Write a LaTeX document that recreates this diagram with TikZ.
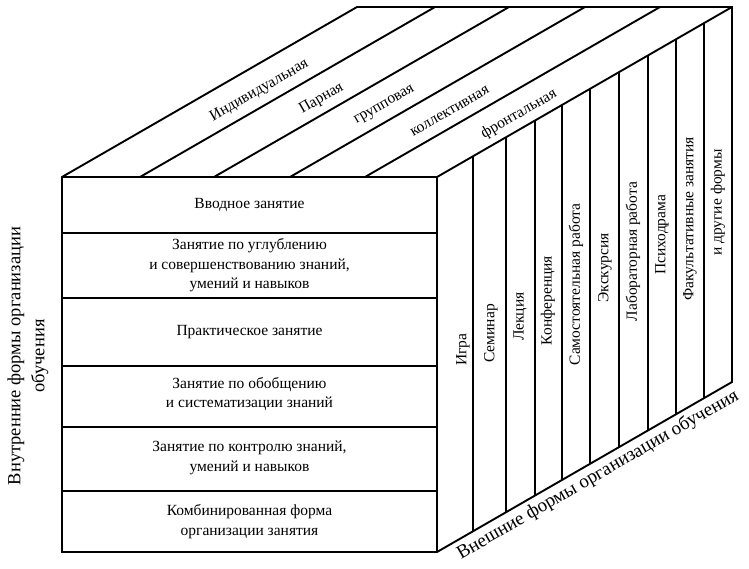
\documentclass[tikz,border=0pt]{standalone}
\usepackage{fontspec}
\setmainfont{Liberation Serif}
\newfontfamily\timesfont{Liberation Serif}
\begin{document}
\begin{tikzpicture}[x=1pt,y=-1pt,
    edge/.style={line width=1.9pt},
    small/.style={font=\timesfont\fontsize{15.5}{19.5}\selectfont,align=center,inner sep=1pt},
    big/.style={font=\timesfont\fontsize{18.5}{24}\selectfont,align=center,inner sep=1pt}]
  \useasboundingbox (0,0) rectangle (749,568);
  % corners of the block
  \coordinate (ftl) at (62,177);
  \coordinate (ftr) at (437,177);
  \coordinate (fbr) at (437,552);
  \coordinate (fbl) at (62,552);
  \coordinate (btl) at (357,7);
  \coordinate (btr) at (732,7);
  \coordinate (bbr) at (732,382);
  \draw [edge] (fbl) -- (ftl) -- (btl) -- (btr) -- (bbr) -- (fbr) -- cycle;
  \draw [edge] (ftl) -- (ftr) -- (fbr);
  \draw [edge] (ftr) -- (btr);
  % front face
  \foreach \y in {233,298,366,427,491}
    \draw [edge] (62,\y) -- (437,\y);
  \node [small] (vvod) at (249.5,205) {Вводное занятие};
  \node [small] (uglub) at (249.5,265.5) {Занятие по углублению\\и совершенствованию знаний,\\умений и навыков};
  \node [small] (prakt) at (249.5,332) {Практическое занятие};
  \node [small] (obob) at (249.5,394) {Занятие по обобщению\\и систематизации знаний};
  \node [small] (kontr) at (249.5,458) {Занятие по контролю знаний,\\умений и навыков};
  \node [small] (komb) at (249.5,521.5) {Комбинированная форма\\организации занятия};
  % top face
  \foreach \x in {140,214,290,365}
    \draw [edge] (\x,177) -- ++(295,-170);
  \node [small,rotate=30] (indiv) at (259.4,90.7) {Индивидуальная};
  \node [small,rotate=30] (para) at (321.6,98.7) {Парная};
  \node [small,rotate=30] (grupp) at (384.8,105.5) {групповая};
  \node [small,rotate=30] (koll) at (449.9,111.4) {коллективная};
  \node [small,rotate=30] (front) at (519,114) {фронтальная};
  % right face
  \foreach \x in {473,506,535,562,590,619,648,676,704}
    \draw [edge] (\x,{177-(\x-437)*0.5763}) -- (\x,{552-(\x-437)*0.5763});
  \foreach \x/\t [count=\i] in {463/Игра,491/Семинар,520/Лекция,548/Конференция,
      576/Самостоятельная работа,605/Экскурсия,633/Лабораторная работа,
      662/Психодрама,690/Факультативные занятия,718/и другие формы}
    \node [small,rotate=90] (ext\i) at (\x,{364.5-(\x-437)*0.5763}) {\t};
  % axis captions
  \node [big,rotate=90] (inner) at (28,356) {Внутренние формы организации\\обучения};
  \node [big,rotate=30,font=\timesfont\fontsize{19}{24}\selectfont] (outer) at (598,475) {Внешние формы организации обучения};
\end{tikzpicture}
\end{document}
